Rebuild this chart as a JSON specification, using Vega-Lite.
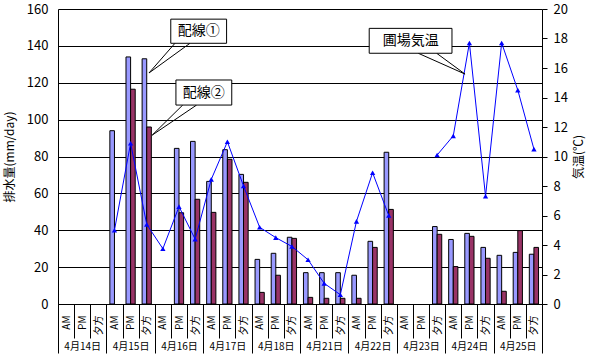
{
  "$schema": "https://vega.github.io/schema/vega-lite/v6.json",
  "width": 484,
  "height": 295,
  "autosize": {"type": "none"},
  "padding": {"left": 58, "top": 9, "right": 47, "bottom": 56},
  "background": "white",
  "config": {
    "view": {"stroke": null},
    "font": "Noto Sans CJK JP",
    "axis": {"labelColor": "black", "titleColor": "black", "domainColor": "black", "tickColor": "black", "labelFont": "Noto Sans CJK JP", "titleFont": "Noto Sans CJK JP", "titleFontWeight": "normal"}
  },
  "datasets": {
    "bars": [
      {"k": "4月15日|AM", "s": "配線①", "v": 94},
      {"k": "4月15日|PM", "s": "配線①", "v": 134},
      {"k": "4月15日|PM", "s": "配線②", "v": 116.5},
      {"k": "4月15日|夕方", "s": "配線①", "v": 133},
      {"k": "4月15日|夕方", "s": "配線②", "v": 96},
      {"k": "4月16日|PM", "s": "配線①", "v": 84.4},
      {"k": "4月16日|PM", "s": "配線②", "v": 49.5},
      {"k": "4月16日|夕方", "s": "配線①", "v": 88.2},
      {"k": "4月16日|夕方", "s": "配線②", "v": 56.8},
      {"k": "4月17日|AM", "s": "配線①", "v": 66.5},
      {"k": "4月17日|AM", "s": "配線②", "v": 49.7},
      {"k": "4月17日|PM", "s": "配線①", "v": 83.7},
      {"k": "4月17日|PM", "s": "配線②", "v": 78.5},
      {"k": "4月17日|夕方", "s": "配線①", "v": 70.3},
      {"k": "4月17日|夕方", "s": "配線②", "v": 66},
      {"k": "4月18日|AM", "s": "配線①", "v": 24.2},
      {"k": "4月18日|AM", "s": "配線②", "v": 6.3},
      {"k": "4月18日|PM", "s": "配線①", "v": 27.5},
      {"k": "4月18日|PM", "s": "配線②", "v": 15.6},
      {"k": "4月18日|夕方", "s": "配線①", "v": 36.2},
      {"k": "4月18日|夕方", "s": "配線②", "v": 35.6},
      {"k": "4月21日|AM", "s": "配線①", "v": 17},
      {"k": "4月21日|AM", "s": "配線②", "v": 3.6},
      {"k": "4月21日|PM", "s": "配線①", "v": 17},
      {"k": "4月21日|PM", "s": "配線②", "v": 3.1},
      {"k": "4月21日|夕方", "s": "配線①", "v": 17},
      {"k": "4月21日|夕方", "s": "配線②", "v": 3.1},
      {"k": "4月22日|AM", "s": "配線①", "v": 15.6},
      {"k": "4月22日|AM", "s": "配線②", "v": 3.1},
      {"k": "4月22日|PM", "s": "配線①", "v": 34},
      {"k": "4月22日|PM", "s": "配線②", "v": 30.7},
      {"k": "4月22日|夕方", "s": "配線①", "v": 82.3},
      {"k": "4月22日|夕方", "s": "配線②", "v": 51.3},
      {"k": "4月23日|夕方", "s": "配線①", "v": 42},
      {"k": "4月23日|夕方", "s": "配線②", "v": 37.8},
      {"k": "4月24日|AM", "s": "配線①", "v": 35},
      {"k": "4月24日|AM", "s": "配線②", "v": 20.3},
      {"k": "4月24日|PM", "s": "配線①", "v": 38.3},
      {"k": "4月24日|PM", "s": "配線②", "v": 36.7},
      {"k": "4月24日|夕方", "s": "配線①", "v": 30.7},
      {"k": "4月24日|夕方", "s": "配線②", "v": 24.8},
      {"k": "4月25日|AM", "s": "配線①", "v": 26.4},
      {"k": "4月25日|AM", "s": "配線②", "v": 6.9},
      {"k": "4月25日|PM", "s": "配線①", "v": 28},
      {"k": "4月25日|PM", "s": "配線②", "v": 39.8},
      {"k": "4月25日|夕方", "s": "配線①", "v": 27},
      {"k": "4月25日|夕方", "s": "配線②", "v": 30.7}
    ],
    "temp": [
      {"k": "4月15日|AM", "t": 5.0},
      {"k": "4月15日|PM", "t": 10.9},
      {"k": "4月15日|夕方", "t": 5.4},
      {"k": "4月16日|AM", "t": 3.75},
      {"k": "4月16日|PM", "t": 6.6},
      {"k": "4月16日|夕方", "t": 4.4},
      {"k": "4月17日|AM", "t": 8.45},
      {"k": "4月17日|PM", "t": 11.0},
      {"k": "4月17日|夕方", "t": 8.0},
      {"k": "4月18日|AM", "t": 5.2},
      {"k": "4月18日|PM", "t": 4.5},
      {"k": "4月18日|夕方", "t": 3.9},
      {"k": "4月21日|AM", "t": 3.0},
      {"k": "4月21日|PM", "t": 1.4},
      {"k": "4月21日|夕方", "t": 0.63},
      {"k": "4月22日|AM", "t": 5.6},
      {"k": "4月22日|PM", "t": 8.9},
      {"k": "4月22日|夕方", "t": 6.0},
      {"k": "4月23日|AM", "t": null},
      {"k": "4月23日|PM", "t": null},
      {"k": "4月23日|夕方", "t": 10.1},
      {"k": "4月24日|AM", "t": 11.4},
      {"k": "4月24日|PM", "t": 17.7},
      {"k": "4月24日|夕方", "t": 7.3},
      {"k": "4月25日|AM", "t": 17.7},
      {"k": "4月25日|PM", "t": 14.5},
      {"k": "4月25日|夕方", "t": 10.5}
    ],
    "days": [
      {"day": "4月14日"}, {"day": "4月15日"}, {"day": "4月16日"}, {"day": "4月17日"}, {"day": "4月18日"},
      {"day": "4月21日"}, {"day": "4月22日"}, {"day": "4月23日"}, {"day": "4月24日"}, {"day": "4月25日"}
    ],
    "boxes": [
      {"lbl": "配線①", "x1": 6.99, "x2": 10.45, "y1": 141.4, "y2": 154.5, "cx": 8.72, "cy": 148},
      {"lbl": "配線②", "x1": 7.31, "x2": 10.77, "y1": 107.9, "y2": 121.5, "cx": 9.04, "cy": 114.7},
      {"lbl": "圃場気温", "x1": 19.29, "x2": 24.42, "y1": 136.0, "y2": 149.5, "cx": 21.86, "cy": 142.7}
    ],
    "wedges": [
      {"x1": 7.25, "y1": 141.4, "x2": 5.64, "y2": 125.3},
      {"x1": 8.18, "y1": 141.4, "x2": 5.64, "y2": 125.3},
      {"x1": 7.73, "y1": 107.9, "x2": 5.84, "y2": 91.6},
      {"x1": 8.59, "y1": 107.9, "x2": 5.84, "y2": 91.6},
      {"x1": 22.33, "y1": 136.0, "x2": 25.23, "y2": 124.7},
      {"x1": 23.47, "y1": 136.0, "x2": 25.23, "y2": 124.7}
    ]
  },
  "layer": [
    {
      "data": {"name": "bars"},
      "mark": {"type": "bar", "stroke": "black", "strokeWidth": 1},
      "encoding": {
        "x": {
          "field": "k", "type": "nominal",
          "scale": {"domain": ["4月14日|AM","4月14日|PM","4月14日|夕方","4月15日|AM","4月15日|PM","4月15日|夕方","4月16日|AM","4月16日|PM","4月16日|夕方","4月17日|AM","4月17日|PM","4月17日|夕方","4月18日|AM","4月18日|PM","4月18日|夕方","4月21日|AM","4月21日|PM","4月21日|夕方","4月22日|AM","4月22日|PM","4月22日|夕方","4月23日|AM","4月23日|PM","4月23日|夕方","4月24日|AM","4月24日|PM","4月24日|夕方","4月25日|AM","4月25日|PM","4月25日|夕方"], "paddingInner": 0, "paddingOuter": 0},
          "axis": {"orient": "bottom", "title": null, "labelExpr": "split(datum.label, '|')[1]", "labelAngle": 270, "labelFontSize": 10, "tickBand": "extent", "tickSize": 34, "labelPadding": -23, "grid": false}
        },
        "xOffset": {"field": "s", "type": "nominal", "scale": {"domain": ["配線①", "配線②"], "paddingInner": 0, "paddingOuter": 0.75}},
        "y": {
          "field": "v", "type": "quantitative",
          "scale": {"domain": [0, 160], "nice": false},
          "axis": {"orient": "left", "title": "排水量(mm/day)", "values": [0, 20, 40, 60, 80, 100, 120, 140, 160], "grid": true, "gridColor": "black", "gridOpacity": 1, "gridWidth": 1, "ticks": false, "labelPadding": 10, "labelFontSize": 13, "titleFontSize": 12, "titlePadding": 10}
        },
        "color": {"field": "s", "type": "nominal", "scale": {"domain": ["配線①", "配線②"], "range": ["#9999FF", "#993366"]}, "legend": null}
      }
    },
    {
      "data": {"name": "temp"},
      "encoding": {
        "x": {"field": "k", "type": "nominal", "scale": {"domain": ["4月14日|AM","4月14日|PM","4月14日|夕方","4月15日|AM","4月15日|PM","4月15日|夕方","4月16日|AM","4月16日|PM","4月16日|夕方","4月17日|AM","4月17日|PM","4月17日|夕方","4月18日|AM","4月18日|PM","4月18日|夕方","4月21日|AM","4月21日|PM","4月21日|夕方","4月22日|AM","4月22日|PM","4月22日|夕方","4月23日|AM","4月23日|PM","4月23日|夕方","4月24日|AM","4月24日|PM","4月24日|夕方","4月25日|AM","4月25日|PM","4月25日|夕方"], "paddingInner": 0, "paddingOuter": 0}, "axis": null},
        "y": {
          "field": "t", "type": "quantitative",
          "scale": {"domain": [0, 20], "nice": false},
          "axis": {"orient": "right", "title": "気温(℃)", "titleAngle": 270, "titleBaseline": "top", "values": [0, 2, 4, 6, 8, 10, 12, 14, 16, 18, 20], "grid": false, "tickSize": 5, "labelFontSize": 13, "titleFontSize": 12, "labelPadding": 6, "titlePadding": 6}
        }
      },
      "layer": [
        {"mark": {"type": "line", "color": "#0000FF", "strokeWidth": 1}},
        {"mark": {"type": "point", "shape": "triangle-up", "filled": true, "size": 28, "color": "#0000FF", "opacity": 1}}
      ]
    },
    {
      "data": {"name": "days"},
      "mark": {"type": "text", "text": ""},
      "encoding": {
        "x": {
          "field": "day", "type": "nominal",
          "scale": {"domain": ["4月14日","4月15日","4月16日","4月17日","4月18日","4月21日","4月22日","4月23日","4月24日","4月25日"], "paddingInner": 0, "paddingOuter": 0},
          "axis": {"orient": "bottom", "title": null, "labelAngle": 0, "labelFontSize": 10, "tickBand": "extent", "tickSize": 49, "labelPadding": -12, "domain": false, "grid": false, "labelBaseline": "top"}
        }
      }
    },
    {
      "layer": [
        {
          "data": {"name": "wedges"},
          "mark": {"type": "rule", "color": "black", "strokeWidth": 1},
          "encoding": {
            "x": {"field": "x1", "type": "quantitative", "scale": {"domain": [0, 30], "nice": false, "zero": false}, "axis": null},
            "x2": {"field": "x2"},
            "y": {"field": "y1", "type": "quantitative", "scale": {"domain": [0, 160], "nice": false}, "axis": null},
            "y2": {"field": "y2"}
          }
        },
        {
          "data": {"name": "boxes"},
          "mark": {"type": "rect", "fill": "white", "stroke": "black", "strokeWidth": 1},
          "encoding": {
            "x": {"field": "x1", "type": "quantitative", "scale": {"domain": [0, 30], "nice": false, "zero": false}, "axis": null},
            "x2": {"field": "x2"},
            "y": {"field": "y1", "type": "quantitative", "scale": {"domain": [0, 160], "nice": false}, "axis": null},
            "y2": {"field": "y2"}
          }
        },
        {
          "data": {"name": "boxes"},
          "mark": {"type": "text", "fontSize": 14, "color": "black", "align": "center", "baseline": "middle"},
          "encoding": {
            "x": {"field": "cx", "type": "quantitative", "scale": {"domain": [0, 30], "nice": false, "zero": false}, "axis": null},
            "y": {"field": "cy", "type": "quantitative", "scale": {"domain": [0, 160], "nice": false}, "axis": null},
            "text": {"field": "lbl"}
          }
        }
      ]
    }
  ],
  "resolve": {"scale": {"x": "independent", "y": "independent"}, "axis": {"x": "independent", "y": "independent"}}
}
